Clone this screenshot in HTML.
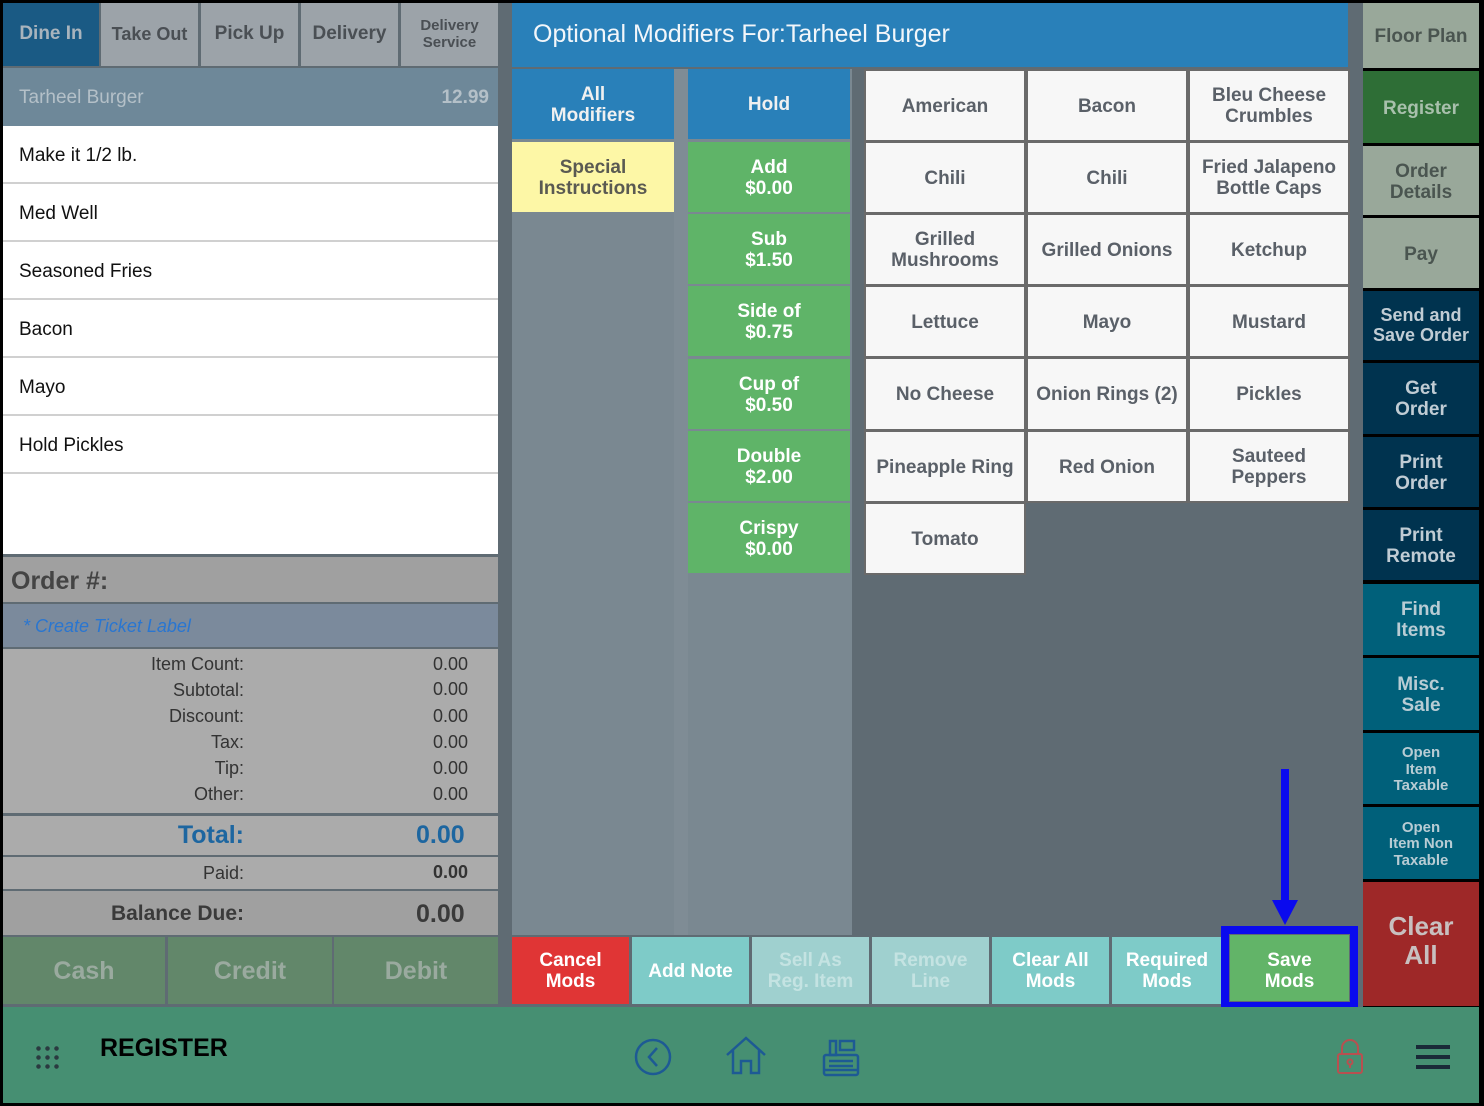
<!DOCTYPE html>
<html><head><meta charset="utf-8"><style>
*{margin:0;padding:0;box-sizing:border-box}
body{width:1484px;height:1106px;background:#000;position:relative;overflow:hidden;font-family:"Liberation Sans",sans-serif}
.a{position:absolute;display:flex;align-items:center;justify-content:center;text-align:center;font-weight:bold;line-height:1.1;padding-top:3px}
.t{position:absolute;font-family:"Liberation Sans",sans-serif}
.g{background:#f7f7f7;color:#5a6068;font-size:19px;border:2px solid #6a6a6a}
.gr{background:#5fb468;color:#fff;font-size:19px}
.row{position:absolute;left:3px;width:495px;height:58px;background:#fff;border-bottom:2px solid #d0d0d0;font-size:19px;color:#111;padding-left:16px;line-height:60px}
.sl{position:absolute;right:1240px;font-size:18px;color:#333;text-align:right}
</style></head><body>
<div class="t" style="left:3px;top:3px;width:495px;height:1004px;background:#5f6b73"></div>
<div class="a" style="left:3px;top:3px;width:96px;height:63px;background:#1a5a84;color:#a9b4bd;font-size:19px;padding-top:0">Dine In</div>
<div class="a" style="left:101px;top:3px;width:97px;height:63px;background:#9ca3a9;color:#4a4f54;font-size:18px;padding-top:0">Take Out</div>
<div class="a" style="left:201px;top:3px;width:97px;height:63px;background:#9ca3a9;color:#4a4f54;font-size:19px;padding-top:0">Pick Up</div>
<div class="a" style="left:301px;top:3px;width:97px;height:63px;background:#9ca3a9;color:#4a4f54;font-size:19px;padding-top:0">Delivery</div>
<div class="a" style="left:401px;top:3px;width:97px;height:63px;background:#9ca3a9;color:#4a4f54;font-size:15px;padding-top:0">Delivery<br>Service</div>
<div class="t" style="left:3px;top:68px;width:495px;height:58px;background:#6e8899;color:#b4c0c8;font-size:19px;line-height:60px;padding:0 9px 0 16px"><span>Tarheel Burger</span><span style="float:right;font-weight:bold">12.99</span></div>
<div class="t" style="left:3px;top:126px;width:495px;height:428px;background:#fff"></div>
<div class="row" style="top:126px">Make it 1/2 lb.</div>
<div class="row" style="top:184px">Med Well</div>
<div class="row" style="top:242px">Seasoned Fries</div>
<div class="row" style="top:300px">Bacon</div>
<div class="row" style="top:358px">Mayo</div>
<div class="row" style="top:416px">Hold Pickles</div>
<div class="t" style="left:3px;top:557px;width:495px;height:45px;background:#a0a0a0;font-size:25px;font-weight:bold;color:#444;line-height:48px;padding-left:8px">Order #:</div>
<div class="t" style="left:3px;top:604px;width:495px;height:43px;background:#7b8a9c;font-size:18px;font-style:italic;color:#2a76d0;line-height:45px;padding-left:20px">* Create Ticket Label</div>
<div class="t" style="left:3px;top:649px;width:495px;height:164px;background:#ababab"></div>
<div class="sl" style="top:654px">Item Count:</div><div class="t" style="left:433px;top:654px;font-size:18px;color:#333">0.00</div>
<div class="sl" style="top:680px">Subtotal:</div><div class="t" style="left:433px;top:679px;font-size:18px;color:#333">0.00</div>
<div class="sl" style="top:706px">Discount:</div><div class="t" style="left:433px;top:706px;font-size:18px;color:#333">0.00</div>
<div class="sl" style="top:732px">Tax:</div><div class="t" style="left:433px;top:732px;font-size:18px;color:#333">0.00</div>
<div class="sl" style="top:758px">Tip:</div><div class="t" style="left:433px;top:758px;font-size:18px;color:#333">0.00</div>
<div class="sl" style="top:784px">Other:</div><div class="t" style="left:433px;top:784px;font-size:18px;color:#333">0.00</div>
<div class="t" style="left:3px;top:816px;width:495px;height:39px;background:#ababab"></div>
<div class="t" style="right:1240px;top:821px;font-size:25px;font-weight:bold;color:#1d66a0">Total:</div>
<div class="t" style="left:416px;top:821px;font-size:25px;font-weight:bold;color:#1d66a0">0.00</div>
<div class="t" style="left:3px;top:857px;width:495px;height:32px;background:#ababab"></div>
<div class="sl" style="top:863px">Paid:</div><div class="t" style="left:433px;top:862px;font-size:18px;color:#333;font-weight:bold">0.00</div>
<div class="t" style="left:3px;top:891px;width:495px;height:44px;background:#a0a0a0"></div>
<div class="t" style="right:1240px;top:902px;font-size:21px;font-weight:bold;color:#3a3a3a">Balance Due:</div>
<div class="t" style="left:416px;top:900px;font-size:25px;font-weight:bold;color:#3a3a3a">0.00</div>
<div class="a" style="left:3px;top:937px;width:162px;height:67px;background:#62876a;color:#9aaa9f;font-size:25px">Cash</div>
<div class="a" style="left:168px;top:937px;width:164px;height:67px;background:#62876a;color:#9aaa9f;font-size:25px">Credit</div>
<div class="a" style="left:334px;top:937px;width:164px;height:67px;background:#62876a;color:#9aaa9f;font-size:25px">Debit</div>
<div class="t" style="left:498px;top:3px;width:865px;height:1004px;background:#5f6b73"></div>
<div class="t" style="left:512px;top:3px;width:836px;height:64px;background:#2980b9;color:#f2f6fa;font-size:25px;line-height:62px;padding-left:21px">Optional Modifiers For:Tarheel Burger</div>
<div class="t" style="left:512px;top:69px;width:340px;height:866px;background:#7a8891"></div>
<div class="t" style="left:674px;top:69px;width:14px;height:866px;background:#7f8c95"></div>
<div class="a" style="left:512px;top:69px;width:162px;height:70px;background:#2980b9;color:#f0f0f0;font-size:19px">All<br>Modifiers</div>
<div class="a" style="left:512px;top:142px;width:162px;height:70px;background:#fdf7a6;color:#5a5a52;font-size:19px">Special<br>Instructions</div>
<div class="a" style="left:688px;top:69px;width:162px;height:70px;background:#2980b9;color:#f0f0f0;font-size:19px">Hold</div>
<div class="a gr" style="left:688px;top:142px;width:162px;height:70px">Add<br>$0.00</div>
<div class="a gr" style="left:688px;top:214px;width:162px;height:70px">Sub<br>$1.50</div>
<div class="a gr" style="left:688px;top:286px;width:162px;height:70px">Side of<br>$0.75</div>
<div class="a gr" style="left:688px;top:359px;width:162px;height:70px">Cup of<br>$0.50</div>
<div class="a gr" style="left:688px;top:431px;width:162px;height:70px">Double<br>$2.00</div>
<div class="a gr" style="left:688px;top:503px;width:162px;height:70px">Crispy<br>$0.00</div>
<div class="a g" style="left:864px;top:69px;width:162px;height:73px">American</div>
<div class="a g" style="left:1026px;top:69px;width:162px;height:73px">Bacon</div>
<div class="a g" style="left:1188px;top:69px;width:162px;height:73px">Bleu Cheese<br>Crumbles</div>
<div class="a g" style="left:864px;top:141px;width:162px;height:73px">Chili</div>
<div class="a g" style="left:1026px;top:141px;width:162px;height:73px">Chili</div>
<div class="a g" style="left:1188px;top:141px;width:162px;height:73px">Fried Jalapeno<br>Bottle Caps</div>
<div class="a g" style="left:864px;top:213px;width:162px;height:73px">Grilled<br>Mushrooms</div>
<div class="a g" style="left:1026px;top:213px;width:162px;height:73px">Grilled Onions</div>
<div class="a g" style="left:1188px;top:213px;width:162px;height:73px">Ketchup</div>
<div class="a g" style="left:864px;top:285px;width:162px;height:73px">Lettuce</div>
<div class="a g" style="left:1026px;top:285px;width:162px;height:73px">Mayo</div>
<div class="a g" style="left:1188px;top:285px;width:162px;height:73px">Mustard</div>
<div class="a g" style="left:864px;top:357px;width:162px;height:74px">No Cheese</div>
<div class="a g" style="left:1026px;top:357px;width:162px;height:74px">Onion Rings (2)</div>
<div class="a g" style="left:1188px;top:357px;width:162px;height:74px">Pickles</div>
<div class="a g" style="left:864px;top:430px;width:162px;height:73px">Pineapple Ring</div>
<div class="a g" style="left:1026px;top:430px;width:162px;height:73px">Red Onion</div>
<div class="a g" style="left:1188px;top:430px;width:162px;height:73px">Sauteed<br>Peppers</div>
<div class="a g" style="left:864px;top:502px;width:162px;height:73px">Tomato</div>
<div class="a" style="left:512px;top:937px;width:117px;height:67px;background:#e03535;color:#fff;font-size:19px">Cancel<br>Mods</div>
<div class="a" style="left:632px;top:937px;width:117px;height:67px;background:#7ecbc8;color:#fff;font-size:19px">Add Note</div>
<div class="a" style="left:752px;top:937px;width:117px;height:67px;background:#9fd0cf;color:#c4e3e2;font-size:19px">Sell As<br>Reg. Item</div>
<div class="a" style="left:872px;top:937px;width:117px;height:67px;background:#9fd0cf;color:#c4e3e2;font-size:19px">Remove<br>Line</div>
<div class="a" style="left:992px;top:937px;width:117px;height:67px;background:#7ecbc8;color:#fff;font-size:19px">Clear All<br>Mods</div>
<div class="a" style="left:1112px;top:937px;width:110px;height:67px;background:#7ecbc8;color:#fff;font-size:19px">Required<br>Mods</div>
<div class="t" style="left:1221px;top:926px;width:137px;height:84px;border:8px solid #0a0aee;background:#5f6b73"></div>
<div class="a" style="left:1230px;top:935px;width:119px;height:66px;background:#62b468;color:#fff;font-size:19px;padding-top:8px">Save<br>Mods</div>
<div class="t" style="left:1281px;top:769px;width:8px;height:135px;background:#0a0aee"></div>
<div class="t" style="left:1272px;top:900px;width:0;height:0;border-left:13px solid transparent;border-right:13px solid transparent;border-top:25px solid #0a0aee"></div>
<div class="a" style="left:1363px;top:3px;width:116px;height:65px;background:#99a89a;color:#4a5550;font-size:19px">Floor Plan</div>
<div class="a" style="left:1363px;top:71px;width:116px;height:72px;background:#2e6e36;color:#a8c0ac;font-size:19px;padding-top:5px">Register</div>
<div class="a" style="left:1363px;top:146px;width:116px;height:69px;background:#99a89a;color:#4a5550;font-size:19px;padding-top:5px">Order<br>Details</div>
<div class="a" style="left:1363px;top:218px;width:116px;height:70px;background:#99a89a;color:#4a5550;font-size:19px;padding-top:5px">Pay</div>
<div class="a" style="left:1363px;top:291px;width:116px;height:69px;background:#00334f;color:#c0ccd4;font-size:18px;padding-top:0">Send and<br>Save Order</div>
<div class="a" style="left:1363px;top:363px;width:116px;height:71px;background:#00334f;color:#c0ccd4;font-size:19px">Get<br>Order</div>
<div class="a" style="left:1363px;top:437px;width:116px;height:70px;background:#00334f;color:#c0ccd4;font-size:19px">Print<br>Order</div>
<div class="a" style="left:1363px;top:510px;width:116px;height:70px;background:#00334f;color:#c0ccd4;font-size:19px">Print<br>Remote</div>
<div class="a" style="left:1363px;top:584px;width:116px;height:71px;background:#00607a;color:#b8ccd4;font-size:19px">Find<br>Items</div>
<div class="a" style="left:1363px;top:658px;width:116px;height:72px;background:#00607a;color:#b8ccd4;font-size:19px">Misc.<br>Sale</div>
<div class="a" style="left:1363px;top:733px;width:116px;height:71px;background:#00607a;color:#b8ccd4;font-size:15px">Open<br>Item<br>Taxable</div>
<div class="a" style="left:1363px;top:807px;width:116px;height:72px;background:#00607a;color:#b8ccd4;font-size:15px">Open<br>Item Non<br>Taxable</div>
<div class="a" style="left:1363px;top:882px;width:116px;height:124px;background:#9e2828;color:#c8c0c0;font-size:26px;align-items:flex-start;padding-top:30px">Clear<br>All</div>
<div class="t" style="left:3px;top:1007px;width:1476px;height:96px;background:#468f72"></div>
<div class="t" style="left:34px;top:1044px;width:26px;height:26px;background:radial-gradient(circle,#2a3a40 2px,transparent 2.5px) 0 0/9px 9px"></div>
<div class="t" style="left:100px;top:1034px;font-size:25px;font-weight:bold;color:#000">REGISTER</div>
<svg class="t" style="left:630px;top:1033px" width="250" height="50" viewBox="0 0 250 50">
<g fill="none" stroke="#1d5a94" stroke-width="2.5">
<circle cx="23" cy="24" r="17"/><path d="M27 15 L19 24 L27 33"/>
<path d="M97 22 L116 5 L135 22 M103 17 V40 H111 V28 H121 V40 H129 V17"/>
<rect x="194" y="22" width="34" height="20" rx="2"/><rect x="200" y="8" width="6" height="14"/><rect x="210" y="8" width="14" height="9"/>
<path d="M199 28 H223 M199 33 H223 M194 37 H228"/>
</g></svg>
<svg class="t" style="left:1335px;top:1038px" width="30" height="38" viewBox="0 0 30 38"><g fill="none" stroke="#b85050" stroke-width="2"><path d="M7 16 V10 A8 8 0 0 1 23 10 V16"/><rect x="3" y="16" width="24" height="19" rx="2"/><circle cx="15" cy="24" r="2.5"/><path d="M15 26 V30"/></g></svg>
<div class="t" style="left:1416px;top:1045px;width:34px;height:4px;background:#1a2a38"></div>
<div class="t" style="left:1416px;top:1055px;width:34px;height:4px;background:#1a2a38"></div>
<div class="t" style="left:1416px;top:1065px;width:34px;height:4px;background:#1a2a38"></div>
</body></html>
